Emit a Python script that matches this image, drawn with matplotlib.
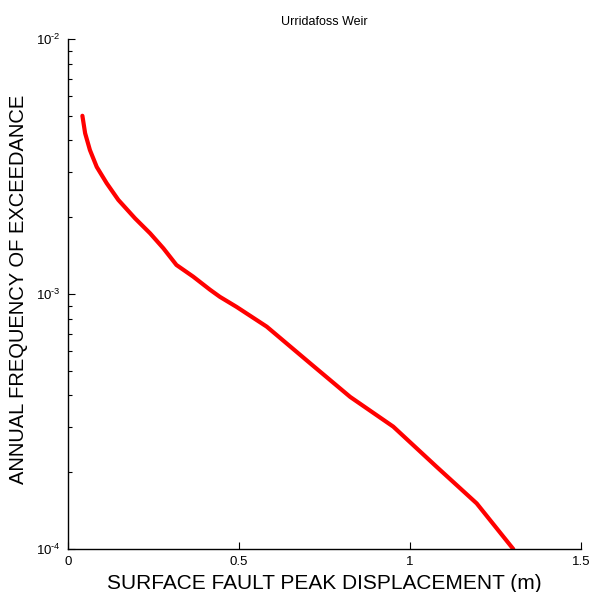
import numpy as np
import matplotlib
matplotlib.use("Agg")
import matplotlib.pyplot as plt
from matplotlib.ticker import LogLocator, FixedLocator, FixedFormatter, FuncFormatter

plt.rcParams['font.family'] = ['Liberation Sans', 'DejaVu Sans']
plt.rcParams['mathtext.fontset'] = 'custom'
plt.rcParams['mathtext.rm'] = 'Liberation Sans'
plt.rcParams['mathtext.it'] = 'Liberation Sans'

# displacement (m) vs annual frequency of exceedance
disp = [0.042, 0.050, 0.064, 0.084, 0.113, 0.147, 0.196, 0.240, 0.279, 0.317,
        0.366, 0.415, 0.444, 0.493, 0.581, 0.708, 0.825, 0.951, 1.078, 1.195,
        1.302]
freq = [5.0e-3, 4.27e-3, 3.67e-3, 3.15e-3, 2.72e-3, 2.34e-3, 1.98e-3, 1.73e-3,
        1.51e-3, 1.30e-3, 1.17e-3, 1.04e-3, 9.75e-4, 8.9e-4, 7.45e-4, 5.35e-4,
        3.95e-4, 3.02e-4, 2.1e-4, 1.51e-4, 1.0e-4]

xticks = [0, 0.5, 1, 1.5]
xticklabels = ['0', '0.5', '1', '1.5']

fig = plt.figure(figsize=(5.9, 5.92), dpi=100)
ax = fig.add_axes([0.1153, 0.0726, 0.8694, 0.8615])
ax.plot(disp, freq, color='#ff0000', lw=3.0, solid_capstyle='round')
ax.set_yscale('log')
ax.set_xlim(0, 1.5)
ax.set_ylim(1e-4, 1e-2)

ax.xaxis.set_major_locator(FixedLocator(xticks))
ax.xaxis.set_major_formatter(FixedFormatter(xticklabels))
ax.yaxis.set_major_locator(LogLocator(base=10, numticks=5))
ax.yaxis.set_minor_locator(LogLocator(base=10, subs=np.arange(2, 10), numticks=20))
ax.yaxis.set_major_formatter(FuncFormatter(
    lambda v, p: r'$10^{\text{-}%d}$' % round(-np.log10(v))))
ax.yaxis.set_minor_formatter(FuncFormatter(lambda v, p: ''))

for s in ['top', 'right']:
    ax.spines[s].set_visible(False)
for s in ['left', 'bottom']:
    ax.spines[s].set_linewidth(1.0)

ax.tick_params(which='major', direction='in', length=5, width=0.8, labelsize=9.5, pad=5)
ax.tick_params(which='minor', direction='in', length=3, width=0.8)
ax.tick_params(axis='x', which='minor', bottom=False)

ax.set_title('Urridafoss Weir', fontsize=9, pad=10)
ax.set_xlabel('SURFACE FAULT PEAK DISPLACEMENT (m)', fontsize=15, labelpad=4)
ax.set_ylabel('ANNUAL FREQUENCY OF EXCEEDANCE', fontsize=14.5)
ax.yaxis.set_label_coords(-0.078, 0.51)

fig.savefig('out.png', dpi=100)
